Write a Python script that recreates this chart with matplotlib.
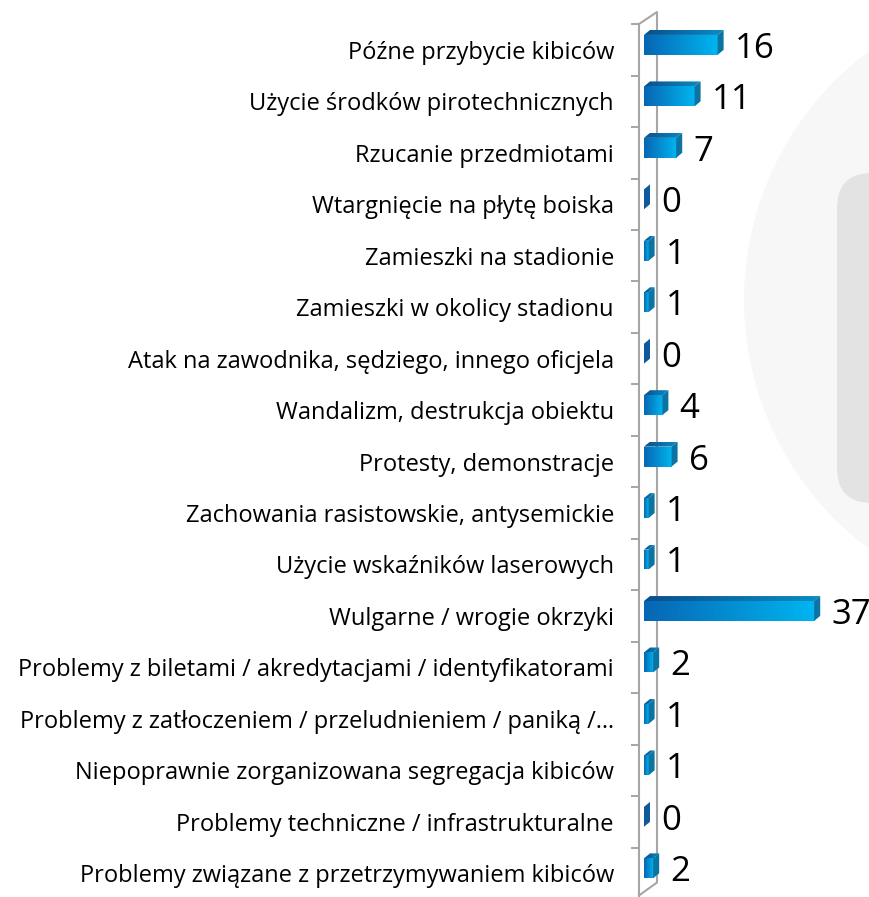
import numpy as np
import matplotlib.pyplot as plt
from matplotlib.patches import Polygon, Circle, FancyBboxPatch
from matplotlib.colors import LinearSegmentedColormap

categories = [
    "Późne przybycie kibiców",
    "Użycie środków pirotechnicznych",
    "Rzucanie przedmiotami",
    "Wtargnięcie na płytę boiska",
    "Zamieszki na stadionie",
    "Zamieszki w okolicy stadionu",
    "Atak na zawodnika, sędziego, innego oficjela",
    "Wandalizm, destrukcja obiektu",
    "Protesty, demonstracje",
    "Zachowania rasistowskie, antysemickie",
    "Użycie wskaźników laserowych",
    "Wulgarne / wrogie okrzyki",
    "Problemy z biletami / akredytacjami / identyfikatorami",
    "Problemy z zatłoczeniem / przeludnieniem / paniką /…",
    "Niepoprawnie zorganizowana segregacja kibiców",
    "Problemy techniczne / infrastrukturalne",
    "Problemy związane z przetrzymywaniem kibiców",
]
values = [16, 11, 7, 0, 1, 1, 0, 4, 6, 1, 1, 37, 2, 1, 1, 0, 2]

plt.rcParams['font.family'] = ['Open Sans', 'DejaVu Sans']

W, H = 870, 897
fig = plt.figure(figsize=(W / 100, H / 100), dpi=100)

# soft decorative shapes behind the plot
fig.patches.append(Circle((10.54, 5.97), 3.1, transform=fig.dpi_scale_trans,
                          facecolor='#f7f7f7', edgecolor='none', zorder=0))
fig.patches.append(FancyBboxPatch((8.37, 3.94), 1.0, 3.30, transform=fig.dpi_scale_trans,
                                  boxstyle='round,pad=0,rounding_size=0.35',
                                  facecolor='#e3e3e3', edgecolor='none', zorder=0))

px_x = 4.6     # pixels per unit
px_y = 51.73   # pixels per row
ax = fig.add_axes([639 / W, -2 / H, 231 / W, 875 / H])
ax.set_facecolor('none')
xlim = (-5 / px_x, 226 / px_x)
ylim = ((899 - 45) / px_y, (24 - 45) / px_y)

h = 20 / px_y      # bar front height
dx = 6 / px_x      # depth offset
dy = 5 / px_y

front_cmap = LinearSegmentedColormap.from_list('front', ['#0766b3', '#00b5f0'])
top_cmap = LinearSegmentedColormap.from_list('top', ['#0a4f8c', '#0a8cc4'])
side_col = '#0b74a2'
grad = np.linspace(0, 1, 256).reshape(1, -1)

rects = ax.barh(range(len(values)), values, height=h, color='none', zorder=3)
for i, (v, rect) in enumerate(zip(values, rects)):
    y0, y1 = i - h / 2, i + h / 2
    if v > 0:
        im = ax.imshow(grad, cmap=front_cmap, extent=[0, v, y1, y0],
                       aspect='auto', interpolation='bilinear', zorder=3)
        im.set_clip_path(rect)
        top = Polygon([(0, y0), (v, y0), (v + dx, y0 - dy), (dx, y0 - dy)],
                      closed=True, facecolor='none', edgecolor='none')
        ax.add_patch(top)
        im2 = ax.imshow(grad, cmap=top_cmap, extent=[0, v + dx, y0, y0 - dy],
                        aspect='auto', interpolation='bilinear', zorder=3)
        im2.set_clip_path(top)
    side = Polygon([(v, y0), (v + dx, y0 - dy), (v + dx, y1 - dy), (v, y1)],
                   closed=True, facecolor=side_col if v > 0 else '#0f5a9c',
                   edgecolor='none', zorder=3)
    ax.add_patch(side)
    ax.text(v + 17 / px_x, i + 4 / px_y, str(v), fontsize=25,
            va='center', ha='left', color='black')

# back edge of the wall
xb = 13 / px_x
ax.plot([xlim[0], xb, xb, xlim[0]],
        [ylim[1], (12 - 45) / px_y, (887 - 45) / px_y, (900 - 45) / px_y],
        color='#a6a6a6', lw=1.5, clip_on=False, zorder=1)

ax.set_xlim(xlim)
ax.set_ylim(ylim)
ax.set_xticks([])
ax.set_yticks(np.arange(len(categories)) + 5 / px_y, labels=categories, fontsize=17)
ax.set_yticks(np.arange(-1, len(categories)) + 0.597, minor=True)
ax.tick_params(axis='y', which='major', length=0, pad=18)
ax.tick_params(axis='y', which='minor', length=5.8, width=1.4, color='#a6a6a6')
for s in ['top', 'right', 'bottom']:
    ax.spines[s].set_visible(False)
ax.spines['left'].set_color('#a6a6a6')
ax.spines['left'].set_linewidth(1.5)

fig.savefig('out.png', dpi=100)
